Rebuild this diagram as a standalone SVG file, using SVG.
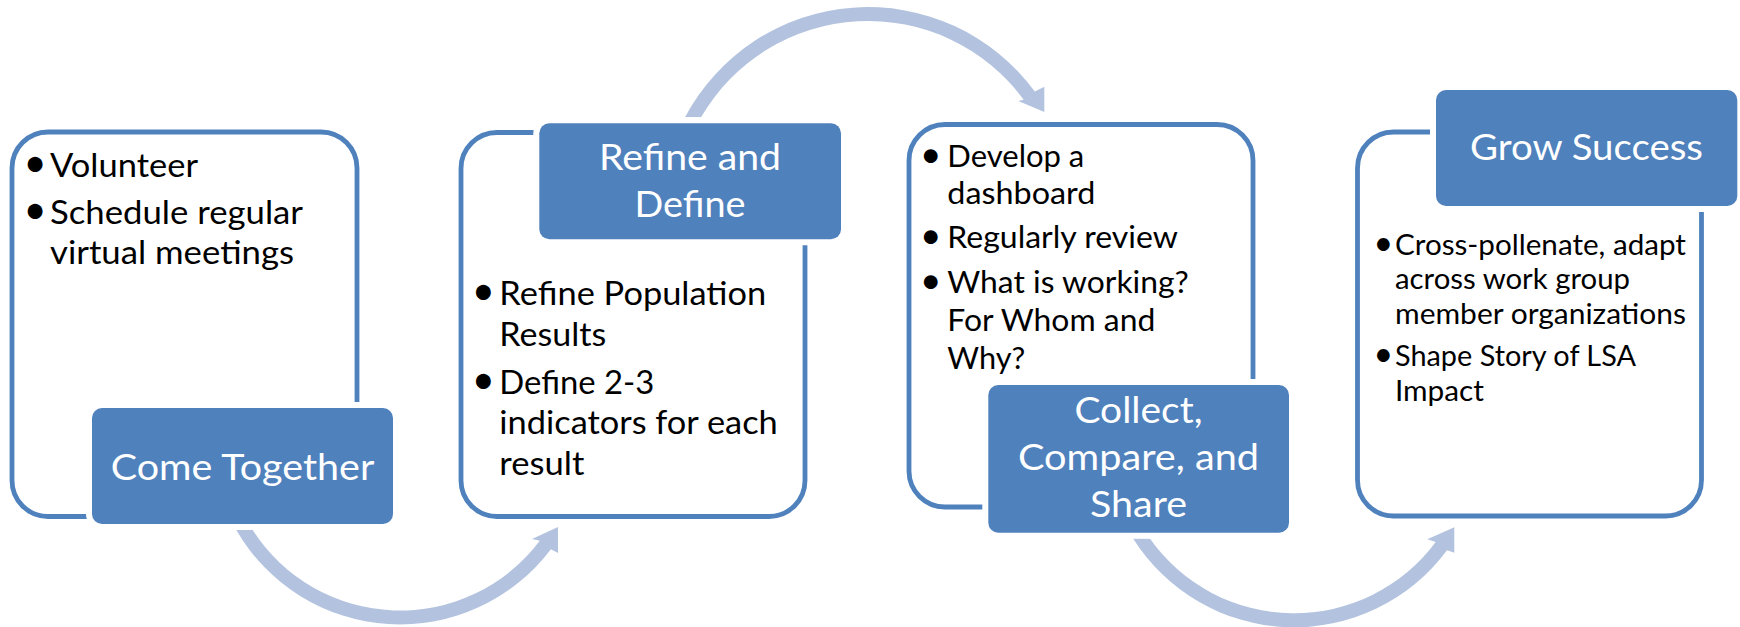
<svg xmlns="http://www.w3.org/2000/svg" width="1740" height="627" viewBox="0 0 1740 627">
<style>
.frame{fill:#fff;stroke:#4F81BD;stroke-width:4.8}
.halo{fill:#fff}
.lbl{fill:#4F81BD}
.arr{fill:#B3C3DF}
.tt{font-family:Lato,"Liberation Sans",sans-serif;fill:#fff;text-anchor:middle;font-size:37.5px}
.bt{font-family:Lato,"Liberation Sans",sans-serif;fill:#000}
.dot{font-family:Lato,"Liberation Sans",sans-serif;fill:#000;text-anchor:middle}
</style>
<rect width="1740" height="627" fill="#fff"/>
<g id="connectors">
<path class="arr" d="M236.3,530 A189,189 0 0 0 550.9,549.2 L558,553 L558,527 L532,539 L539.8,540.8 A175,175 0 0 1 252.7,530 Z"/>
<path class="arr" d="M685,117.3 A207,207 0 0 1 1034.8,91.5 L1044.3,86.7 L1044.3,112 L1018.3,101 L1023.6,99.7 A193,193 0 0 0 701,117.3 Z"/>
<path class="arr" d="M1132.9,538.3 A190.3,190.3 0 0 0 1447,550.2 L1454.3,552.7 L1454.3,527.3 L1427.3,539.3 L1435.7,541.9 A176.3,176.3 0 0 1 1149.7,538.3 Z"/>
</g>
<g id="node-come-together">
<rect class="frame" x="12" y="132" width="345" height="384.5" rx="36"/>
<rect class="halo" x="86" y="402" width="313" height="128" rx="16"/>
<rect class="lbl" x="92" y="408" width="301" height="116" rx="10"/>
<text class="tt" x="242.5" y="479.5" textLength="263.5" lengthAdjust="spacingAndGlyphs">Come Together</text>
<g class="bt" font-size="32.8px">
<text class="dot" x="35" y="177.3" font-size="40px">•</text>
<text x="50" y="177.3" textLength="148" lengthAdjust="spacingAndGlyphs">Volunteer</text>
<text class="dot" x="35" y="224" font-size="40px">•</text>
<text x="50" y="224" textLength="253" lengthAdjust="spacingAndGlyphs">Schedule regular</text>
<text x="50" y="264.3" textLength="244" lengthAdjust="spacingAndGlyphs">virtual meetings</text>
</g>
</g>
<g id="node-refine-define">
<rect class="frame" x="461" y="132.5" width="344" height="384" rx="36"/>
<rect class="halo" x="533.3" y="117.3" width="313.7" height="128" rx="16"/>
<rect class="lbl" x="539.3" y="123.3" width="301.7" height="116" rx="10"/>
<text class="tt" x="690" y="170" textLength="182" lengthAdjust="spacingAndGlyphs">Refine and</text>
<text class="tt" x="690" y="216.7" textLength="111" lengthAdjust="spacingAndGlyphs">Define</text>
<g class="bt" font-size="32.8px">
<text class="dot" x="483.3" y="305" font-size="40px">•</text>
<text x="499.3" y="305" textLength="267" lengthAdjust="spacingAndGlyphs">Refine Population</text>
<text x="499.3" y="346.3" textLength="107" lengthAdjust="spacingAndGlyphs">Results</text>
<text class="dot" x="483.3" y="393.5" font-size="40px">•</text>
<text x="499.3" y="393.5" textLength="155" lengthAdjust="spacingAndGlyphs">Define 2-3</text>
<text x="499.3" y="434.3" textLength="278.5" lengthAdjust="spacingAndGlyphs">indicators for each</text>
<text x="499.3" y="475" textLength="85" lengthAdjust="spacingAndGlyphs">result</text>
</g>
</g>
<g id="node-collect-compare-share">
<rect class="frame" x="909" y="124.5" width="344" height="382.5" rx="36"/>
<rect class="halo" x="982.3" y="379" width="312.7" height="159.7" rx="16"/>
<rect class="lbl" x="988.3" y="385" width="300.7" height="147.7" rx="10"/>
<text class="tt" x="1138.5" y="423.3" textLength="128" lengthAdjust="spacingAndGlyphs">Collect,</text>
<text class="tt" x="1138.5" y="470" textLength="241" lengthAdjust="spacingAndGlyphs">Compare, and</text>
<text class="tt" x="1138.5" y="516.7" textLength="97" lengthAdjust="spacingAndGlyphs">Share</text>
<g class="bt" font-size="30.4px">
<text class="dot" x="930.7" y="166.7" font-size="37px">•</text>
<text x="947.3" y="166.7" textLength="137" lengthAdjust="spacingAndGlyphs">Develop a</text>
<text x="947.3" y="204" textLength="148" lengthAdjust="spacingAndGlyphs">dashboard</text>
<text class="dot" x="930.7" y="247.7" font-size="37px">•</text>
<text x="947.3" y="247.7" textLength="230.5" lengthAdjust="spacingAndGlyphs">Regularly review</text>
<text class="dot" x="930.7" y="293.3" font-size="37px">•</text>
<text x="947.3" y="293.3" textLength="241.5" lengthAdjust="spacingAndGlyphs">What is working?</text>
<text x="947.3" y="330.7" textLength="208" lengthAdjust="spacingAndGlyphs">For Whom and</text>
<text x="947.3" y="369.3" textLength="78" lengthAdjust="spacingAndGlyphs">Why?</text>
</g>
</g>
<g id="node-grow-success">
<rect class="frame" x="1357.5" y="132" width="344" height="384" rx="36"/>
<rect class="halo" x="1430" y="84" width="313.3" height="128" rx="16"/>
<rect class="lbl" x="1436" y="90" width="301.3" height="116" rx="10"/>
<text class="tt" x="1586.5" y="160" textLength="233" lengthAdjust="spacingAndGlyphs">Grow Success</text>
<g class="bt" font-size="28.3px">
<text class="dot" x="1383.3" y="254.5" font-size="34px">•</text>
<text x="1395" y="254.5" textLength="291" lengthAdjust="spacingAndGlyphs">Cross-pollenate, adapt</text>
<text x="1395" y="289.3" textLength="235" lengthAdjust="spacingAndGlyphs">across work group</text>
<text x="1395" y="324.1" textLength="291" lengthAdjust="spacingAndGlyphs">member organizations</text>
<text class="dot" x="1383.3" y="365.8" font-size="34px">•</text>
<text x="1395" y="365.8" textLength="241" lengthAdjust="spacingAndGlyphs">Shape Story of LSA</text>
<text x="1395" y="400.6" textLength="89" lengthAdjust="spacingAndGlyphs">Impact</text>
</g>
</g>
</svg>
